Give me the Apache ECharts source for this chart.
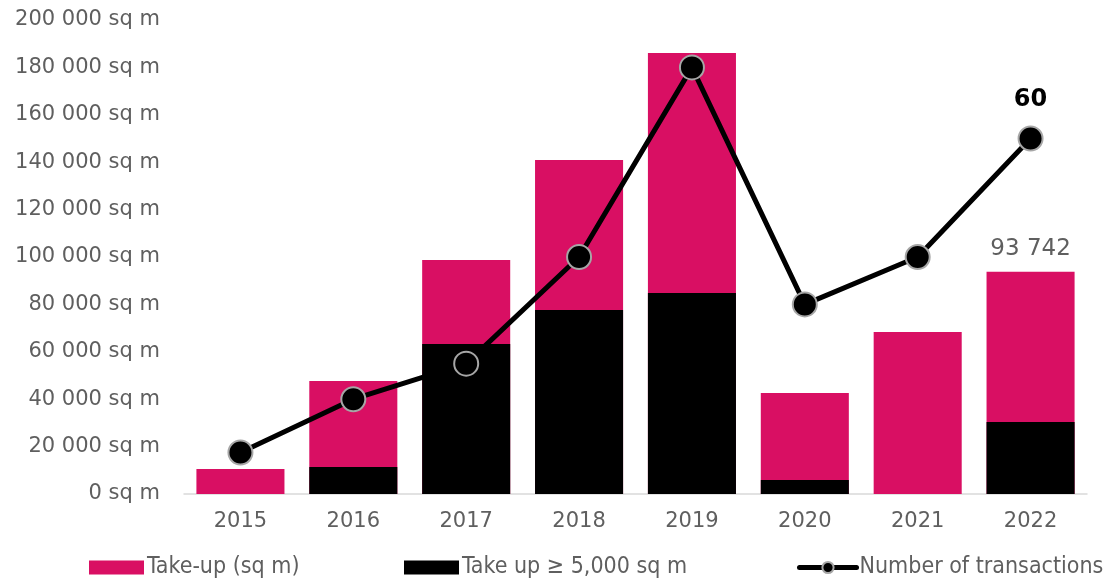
<!DOCTYPE html>
<html><head><meta charset="utf-8">
<script src="https://cdn.jsdelivr.net/npm/echarts@6/dist/echarts.min.js"></script>
<style>html,body{margin:0;padding:0;background:#fff}#c{width:1114px;height:578px}</style>
</head><body><div id="c"></div>
<script>
const years = ['2015','2016','2017','2018','2019','2020','2021','2022'];
const takeUp = [10500, 47700, 98700, 140900, 186100, 42600, 68400, 93742];
const takeUpLarge = [0, 11400, 63300, 77600, 84800, 5900, 0, 30400];
const transactions = [7, 16, 22, 40, 72, 32, 40, 60];
const yTicks = [0, 20000, 40000, 60000, 80000, 100000, 120000, 140000, 160000, 180000, 200000];

const grey = '#5f5f5f';
const fmt = v => String(Math.round(v)).replace(/\B(?=(\d{3})+(?!\d))/g, ' ');
const last = years.length - 1;
const legText = {fontSize: 23, color: grey, fontFamily: 'DejaVu Sans Condensed', padding: [0,0,0,-2]};

const chart = echarts.init(document.getElementById('c'), null, {renderer: 'canvas'});
chart.setOption({
  animation: false,
  textStyle: {fontFamily: 'DejaVu Sans'},
  grid: {left: 184, right: 27, top: 20, bottom: 84},
  legend: [
    {data: [{name: 'Take-up (sq m)', icon: 'rect'}], left: 89, top: 556, padding: 0, itemWidth: 55, itemHeight: 14, textStyle: legText},
    {data: [{name: 'Take up \u2265 5,000 sq m', icon: 'rect'}], left: 404, top: 556, padding: 0, itemWidth: 55, itemHeight: 14, textStyle: legText},
    {data: ['Number of transactions'], left: 797, top: 556, padding: 0, itemWidth: 57, itemHeight: 14, textStyle: legText,
     lineStyle: {width: 5, cap: 'round'}}
  ],
  xAxis: {
    type: 'category', data: years,
    axisLine: {lineStyle: {color: '#d9d9d9', width: 1.5}},
    axisTick: {show: false},
    axisLabel: {fontSize: 21, color: grey, margin: 17}
  },
  yAxis: [
    {type: 'value', min: yTicks[0], max: yTicks[yTicks.length-1], interval: yTicks[1]-yTicks[0],
     splitLine: {show: false}, axisLine: {show: false}, axisTick: {show: false},
     axisLabel: {fontSize: 21, color: grey, margin: 24, formatter: v => fmt(v) + ' sq m'}},
    {type: 'value', min: 0, max: 80, interval: 8,
     splitLine: {show: false}, axisLine: {show: false}, axisTick: {show: false},
     axisLabel: {show: false}}
  ],
  series: [
    {name: 'Take-up (sq m)', type: 'bar', barWidth: '78%', barGap: '-100%',
     itemStyle: {color: '#d90f63'},
     data: takeUp.map((v, i) => i === last ? {value: v, label: {show: true, position: 'top', distance: 11,
       fontSize: 23, color: grey, formatter: p => fmt(p.value)}} : v)},
    {name: 'Take up \u2265 5,000 sq m', type: 'bar', barWidth: '78%', barGap: '-100%',
     itemStyle: {color: '#000000'}, data: takeUpLarge},
    {name: 'Number of transactions', type: 'line', yAxisIndex: 1,
     symbol: 'circle', symbolSize: 24,
     lineStyle: {color: '#000', width: 5},
     itemStyle: {color: '#000', borderColor: '#a6a6a6', borderWidth: 2},
     data: transactions.map((v, i) => i === last ? {value: v, label: {show: true, position: 'top', distance: 14,
       fontSize: 24, fontWeight: 'bold', color: '#000'}} : v)}
  ]
});
</script></body></html>
